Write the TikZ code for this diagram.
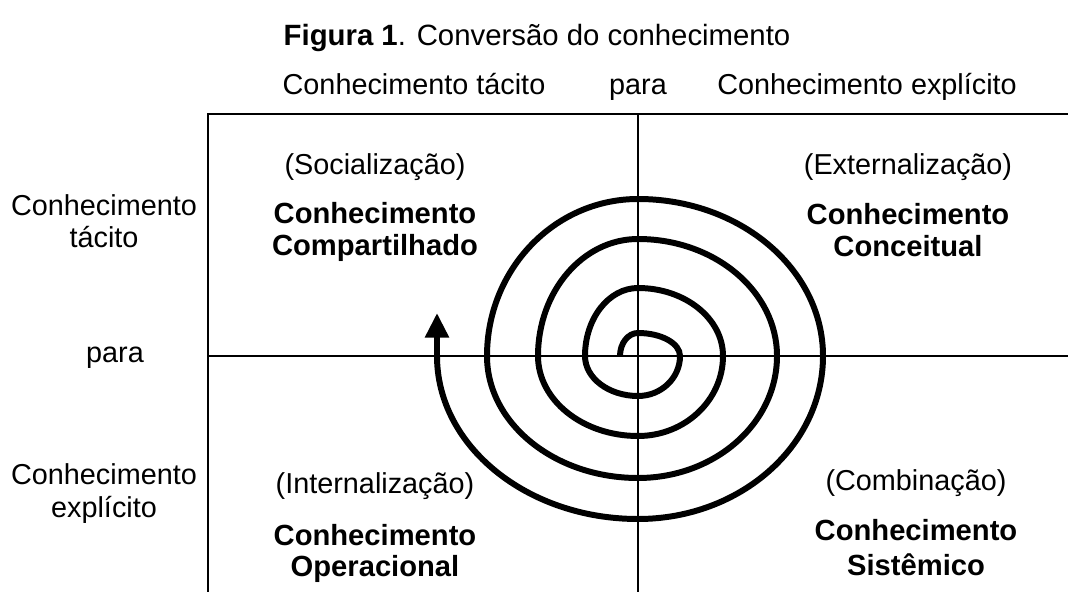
\documentclass[tikz,border=0pt]{standalone}
\usepackage{fontspec}
\setmainfont{Liberation Sans}
\usetikzlibrary{arrows.meta}
\tikzset{
    heading/.style={font=\fontsize{16.7}{20}\selectfont,anchor=base},
    sidetext/.style={font=\fontsize{16.4}{18.7}\selectfont,align=center,inner sep=0pt,anchor=base},
    kindtext/.style={sidetext,font=\fontsize{16.6}{18.7}\selectfont\bfseries},
    gridline/.style={line width=1pt},
    spiral/.style={line width=3.4pt,-{Triangle[length=14pt,width=13pt]}}
}

\begin{document}
\begin{tikzpicture}[x=0.02cm,y=0.02cm]
  \useasboundingbox (0,0) rectangle (1068,592);
  % Draw title and headings
  \node (title) [heading] at (537,546) {\textbf{Figura 1}. Conversão do conhecimento};
  \node (toptacit) [sidetext] at (414,497) {Conhecimento tácito};
  \node (toppara)  [sidetext] at (638,497) {para};
  \node (topexpl)  [sidetext] at (867,497) {Conhecimento explícito};
  \node (lefttacit) [sidetext] at (104,344) {Conhecimento\\tácito};
  \node (leftpara)  [sidetext] at (115,230) {para};
  \node (leftexpl)  [sidetext] at (104,75) {Conhecimento\\explícito};
  % Draw grid
  \coordinate (topleft) at (208,478);
  \coordinate (topright) at (1068,478);
  \coordinate (midtop) at (638,478);
  \coordinate (midbottom) at (638,0);
  \coordinate (leftbottom) at (208,0);
  \coordinate (midleft) at (208,236);
  \coordinate (midright) at (1068,236);
  \draw[gridline] (topright) -- (topleft) -- (leftbottom);
  \draw[gridline] (midtop) -- (midbottom);
  \draw[gridline] (midleft) -- (midright);
  % Draw quadrant labels
  \node (soc)     [sidetext] at (375,417) {(Socialização)};
  \node (sockind) [kindtext] at (375,336) {Conhecimento\\Compartilhado};
  \node (ext)     [sidetext] at (908,417) {(Externalização)};
  \node (extkind) [kindtext] at (908,335) {Conhecimento\\Conceitual};
  \node (int)     [sidetext] at (375,99) {(Internalização)};
  \node (intkind) [kindtext] at (375,16) {Conhecimento\\[-1.5pt]Operacional};
  \node (comb)     [sidetext] at (916,102) {(Combinação)};
  \node (combkind) [kindtext] at (916,17) {Conhecimento\\[1pt]Sistêmico};
  % Draw spiral
  \coordinate (spiralstart) at (620,236);
  \coordinate (spiralend) at (437,279);
  \draw[spiral] (spiralstart)
        arc[start angle=180,end angle=90,x radius=18,y radius=23]
        arc[start angle=90,end angle=0,x radius=42,y radius=23]
        arc[start angle=0,end angle=-90,x radius=42,y radius=40]
        arc[start angle=-90,end angle=-180,x radius=53,y radius=40]
        arc[start angle=180,end angle=90,x radius=53,y radius=68]
        arc[start angle=90,end angle=0,x radius=85,y radius=68]
        arc[start angle=0,end angle=-90,x radius=85,y radius=80]
        arc[start angle=-90,end angle=-180,x radius=100,y radius=80]
        arc[start angle=180,end angle=90,x radius=100,y radius=117]
        arc[start angle=90,end angle=0,x radius=139,y radius=117]
        arc[start angle=0,end angle=-90,x radius=139,y radius=122]
        arc[start angle=-90,end angle=-180,x radius=151,y radius=122]
        arc[start angle=180,end angle=90,x radius=151,y radius=157]
        arc[start angle=90,end angle=0,x radius=185,y radius=157]
        arc[start angle=0,end angle=-90,x radius=185,y radius=163]
        arc[start angle=-90,end angle=-180,x radius=201,y radius=163]
        -- (spiralend);
\end{tikzpicture}
\end{document}
